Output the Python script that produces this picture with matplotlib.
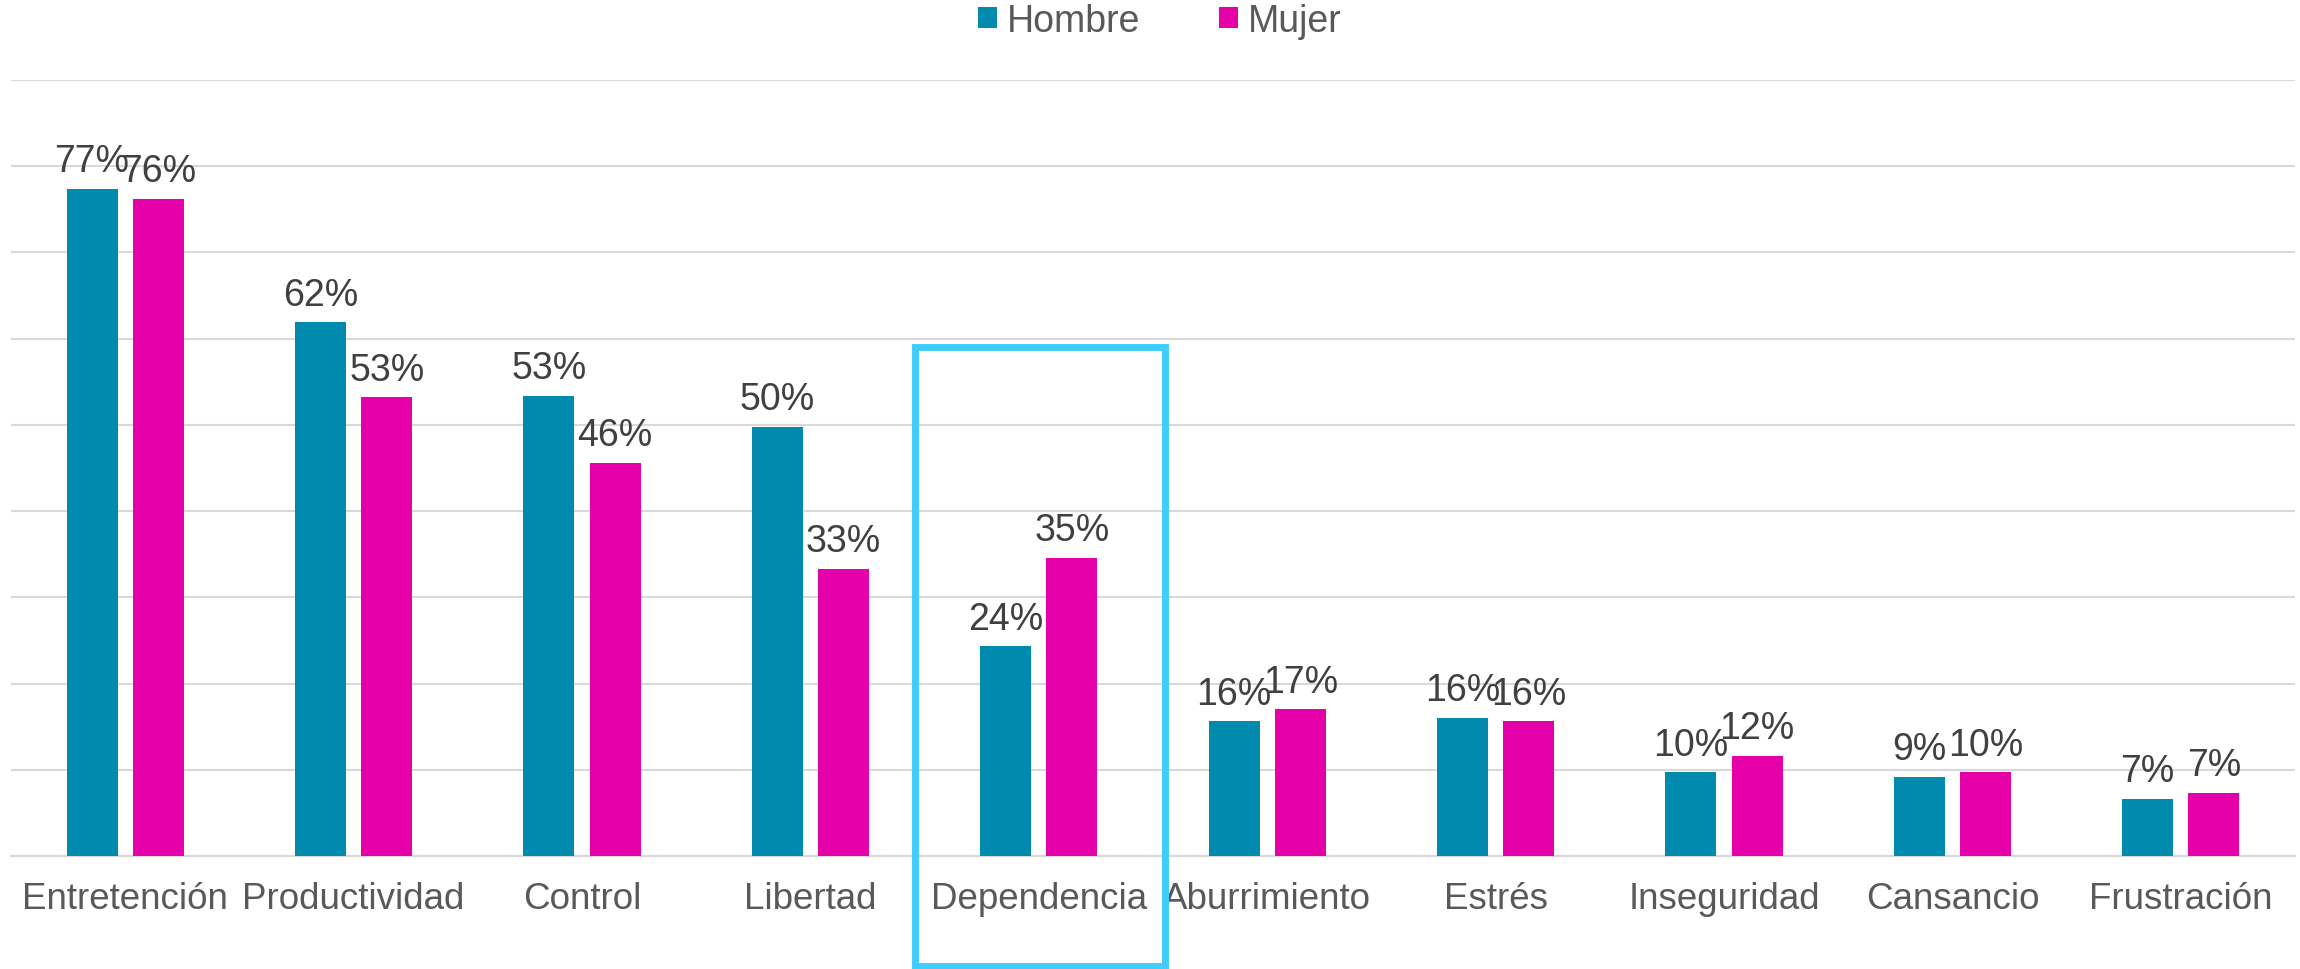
import matplotlib
matplotlib.use("Agg")
import matplotlib.pyplot as plt
import numpy as np
from matplotlib.patches import Rectangle

# datos (porcentajes)
categorias = ["Entretención", "Productividad", "Control", "Libertad", "Dependencia",
              "Aburrimiento", "Estrés", "Inseguridad", "Cansancio", "Frustración"]
hombre = [77.4, 61.9, 53.4, 49.8, 24.3, 15.6, 16.0, 9.7, 9.2, 6.6]
mujer = [76.2, 53.2, 45.6, 33.3, 34.6, 17.0, 15.6, 11.6, 9.7, 7.3]
series = ["Hombre", "Mujer"]
destacado = "Dependencia"

col_h = "#008AAE"
col_m = "#E600A9"

plt.rcParams["font.family"] = ["Liberation Sans", "DejaVu Sans"]

W, H = 2300, 970
fig = plt.figure(figsize=(23, 9.7), dpi=100)
ax = fig.add_axes([11 / W, 1 - 857 / H, (2295 - 11) / W, (857 - 81) / H])

x = np.arange(len(categorias))
ancho = 0.223
off = 0.145
b1 = ax.bar(x - off, hombre, ancho, color=col_h, label=series[0], zorder=3)
b2 = ax.bar(x + off, mujer, ancho, color=col_m, label=series[1], zorder=3)

# etiquetas de datos
for barras, vals in [(b1, hombre), (b2, mujer)]:
    for r, v in zip(barras, vals):
        ax.annotate(f"{round(v)}%", (r.get_x() + r.get_width() / 2, v),
                    xytext=(0, 7), textcoords="offset points",
                    ha="center", va="bottom", fontsize=27, color="#404040", zorder=4)

ax.set_xlim(-0.5, len(categorias) - 0.5)
ax.set_ylim(0, 90)
ax.set_yticks(np.arange(0, 91, 10))
ax.yaxis.grid(True, color="#D9D9D9", linewidth=1.5, zorder=0)
ax.set_axisbelow(True)
ax.tick_params(axis="y", left=False, labelleft=False)
ax.set_xticks(x)
ax.set_xticklabels(categorias, fontsize=26.5, color="#595959")
ax.tick_params(axis="x", length=0, pad=18)
for s in ["top", "right", "left"]:
    ax.spines[s].set_visible(False)
ax.spines["bottom"].set_color("#D9D9D9")
ax.spines["bottom"].set_linewidth(1.5)

# recuadro de la categoría destacada
i = categorias.index(destacado)
rect = Rectangle((i - 0.54, -12.8), 1.093, 12.8 + 59.0, fill=False,
                 edgecolor="#40CDFD", linewidth=5, clip_on=False, zorder=6)
ax.add_patch(rect)

leg = fig.legend(handles=[b1, b2], labels=series, loc="center",
                 bbox_to_anchor=(1160 / W, 1 - 22 / H), ncol=2, frameon=False,
                 fontsize=27, handlelength=0.5, handleheight=0.5,
                 handletextpad=0.27, columnspacing=2.1)
for t in leg.get_texts():
    t.set_color("#595959")

fig.savefig("out.png", dpi=100)
